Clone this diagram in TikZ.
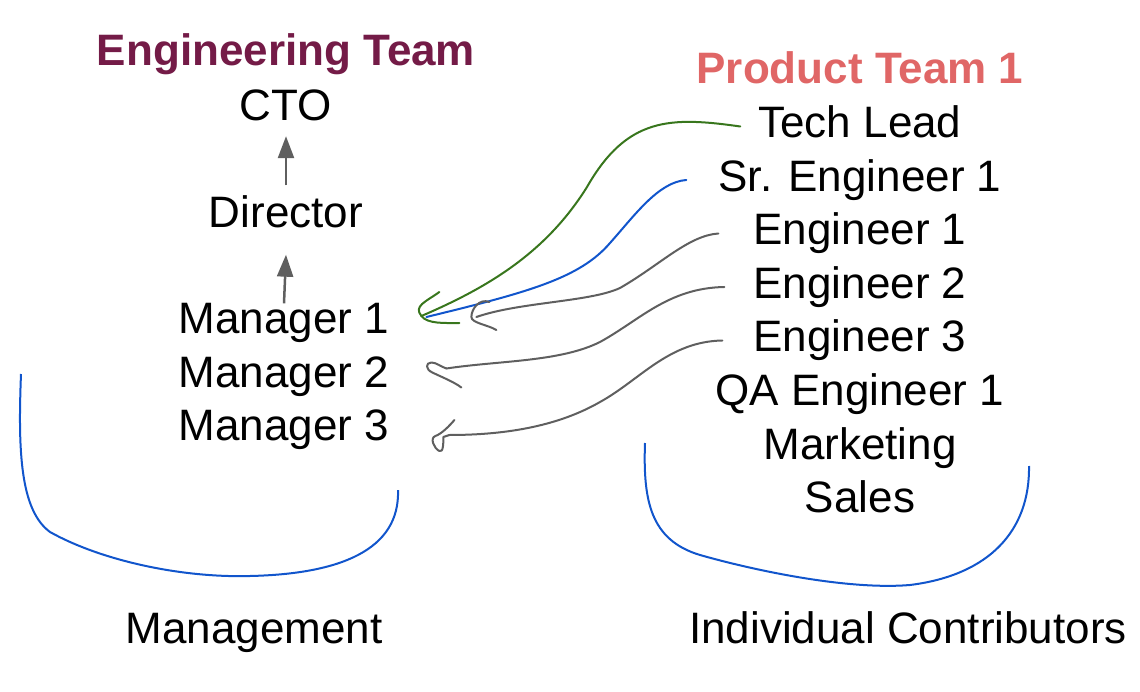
\documentclass[tikz,border=0pt]{standalone}
\usepackage{fontspec}
\setmainfont{Liberation Sans}
\usetikzlibrary{arrows.meta}
\definecolor{engteam}{HTML}{741B47}
\definecolor{prodteam}{HTML}{E06666}
\definecolor{scrgreen}{HTML}{38761D}
\definecolor{scrblue}{HTML}{1155CC}
\definecolor{scrgray}{HTML}{5F5F5F}
\tikzset{
  item/.style={inner sep=0pt, text height=32pt, text depth=9pt,
    font=\fontsize{44}{53}\selectfont},
  title/.style={item, font=\fontsize{44}{53}\selectfont\bfseries},
  up/.style={draw=scrgray, line width=2.5pt, -{Triangle[length=22pt,width=16pt]}},
  scribble/.style={line width=2pt, line cap=round, line join=round},
  brace/.style={draw=scrblue, line width=2pt}
}

\begin{document}
\begin{tikzpicture}[x=1pt,y=-1pt]
  \useasboundingbox (0,0) rectangle (1140,692);
  \def\lx{286}   % x of the management column
  \def\rx{860}   % x of the team column
  \def\dy{53.5}  % line pitch
  % management chain
  \node[title, text=engteam] (eng) at (\lx,54.5) {Engineering Team};
  \node[item] (cto) at (\lx,109.5) {CTO};
  \node[item] (dir) at (\lx,216) {Director};
  \foreach \i in {1,2,3} { \node[item] (m\i) at (\lx-2,322+\dy*\i-\dy) {Manager \i}; }
  \draw[up] ([yshift=10pt]dir.north) -- ([yshift=-6pt]cto.south);
  \draw[up] ([yshift=-2pt]m1.north) -- ([yshift=-18pt]dir.south);
  % product team
  \node[title, text=prodteam] (prod) at (\rx,72.5) {Product Team 1};
  \foreach \n/\t [count=\i] in {tl/Tech Lead, se/Sr. Engineer 1, e1/Engineer 1, e2/Engineer 2,
      e3/Engineer 3, qa/QA Engineer 1, mk/Marketing, sa/Sales}
    { \node[item] (\n) at (\rx,126.5+\dy*\i-\dy) {\t}; }
  % group labels
  \node[item] (mgmt) at (254,632) {Management};
  \node[item] (ic) at (908,632) {Individual Contributors};
  % ends of the scribbled arrows
  \coordinate (gtip) at ([xshift=32pt,yshift=6pt]m1.east);
  \coordinate (btip) at ([xshift=37pt,yshift=5pt]m1.east);
  \coordinate (k1tip) at ([xshift=87pt,yshift=5pt]m1.east);
  \coordinate (k2tip) at ([xshift=57pt,yshift=7pt]m2.east);
  \coordinate (k3tip) at ([xshift=60pt,yshift=-6pt]m3.east);
  % scribbled connectors
  \draw[scribble, scrgreen] ([xshift=-18pt]tl.west) .. controls +(-70,-10) and +(40,-70) .. (587,187)
    .. controls +(-40,64) and +(70,-30) .. (gtip);
  \draw[scribble, scrgreen] ([shift={(18,-24)}]gtip) .. controls +(-14,10) and +(-8,-10) .. (gtip)
    .. controls +(6,8) and +(-15,0) .. ++(38,7);
  \draw[scribble, scrblue] ([xshift=-32pt]se.west) .. controls +(-28,2) and +(25,-28) .. (610,243)
    .. controls +(-30,35) and +(103,-25) .. (btip);
  \draw[scribble, scrgray] ([xshift=-35pt]e1.west) .. controls +(-30,2) and +(40,-23) .. (620,288)
    .. controls +(-30,14) and +(43,-15) .. (k1tip);
  \draw[scribble, scrgray] ([shift={(13,-15)}]k1tip) .. controls +(-10,-4) and +(0,-8) .. ([xshift=-5pt]k1tip)
    .. controls +(0,6) and +(-8,-5) .. ++(25,13);
  \draw[scribble, scrgray] ([xshift=-29pt]e2.west) .. controls +(-56,1) and +(40,-22) .. (600,342)
    .. controls +(-40,20) and +(53,-8) .. (k2tip);
  \draw[scribble, scrgray] (k2tip) .. controls +(-6,-2) and +(5,0) .. ([shift={(-15,-6)}]k2tip)
    .. controls +(-6,0) and +(-7,-3) .. ([shift={(-14,4)}]k2tip) .. controls +(8,4) and +(-8,-6) .. ([shift={(15,19)}]k2tip);
  \draw[scribble, scrgray] ([xshift=-31pt]e3.west) .. controls +(-54,1) and +(40,-22) .. (600,402)
    .. controls +(-40,23) and +(60,0) .. (k3tip);
  \draw[scribble, scrgray] ([shift={(5,-15)}]k3tip) .. controls +(-5,6) and +(6,-2) .. ([shift={(-14,1)}]k3tip)
    .. controls +(-6,2) and +(-5,-2) .. ([shift={(-10,16)}]k3tip) .. controls +(4,2) and +(0,6) .. ([shift={(-6,2)}]k3tip)
    -- (k3tip);
  % groups
  \draw[brace] (21,374) .. controls (18,450) and (20,510) .. (50,532)
    .. controls (100,560) and (180,578) .. (250,576) .. controls (340,574) and (400,550) .. (398,490);
  \draw[brace] (645,443) .. controls (643,500) and (650,540) .. (700,555)
    .. controls (760,572) and (850,590) .. (910,585) .. controls (990,575) and (1030,530) .. (1029,466);
\end{tikzpicture}
\end{document}
